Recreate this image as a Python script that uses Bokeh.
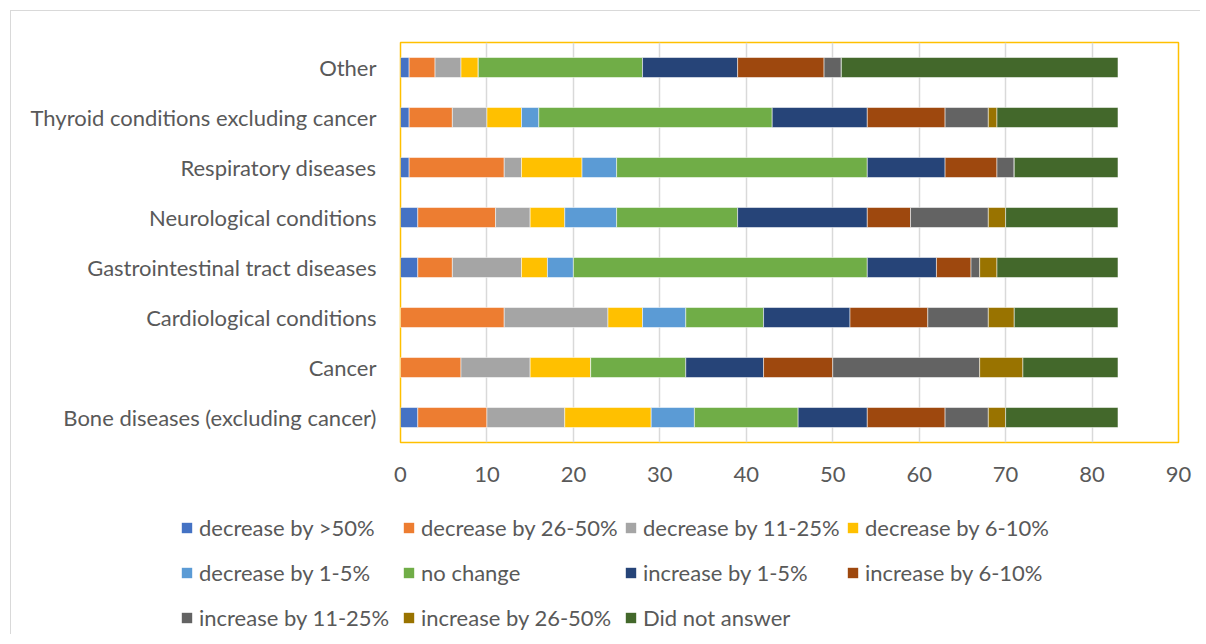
from bokeh.plotting import figure
from bokeh.layouts import column
from bokeh.models import ColumnDataSource, FactorRange, Range1d, Legend, LegendItem, FixedTicker
from bokeh.embed import file_html
from bokeh.resources import INLINE

categories = ["Bone diseases (excluding cancer)", "Cancer", "Cardiological conditions",
              "Gastrointestinal tract diseases", "Neurological conditions",
              "Respiratory diseases", "Thyroid conditions excluding cancer", "Other"]

series_labels = ["decrease by >50%", "decrease by 26-50%", "decrease by 11-25%",
                 "decrease by 6-10%", "decrease by 1-5%", "no change",
                 "increase by 1-5%", "increase by 6-10%", "increase by 11-25%",
                 "increase by 26-50%", "Did not answer"]

dec_gt50 = [2, 0, 0, 2, 2, 1, 1, 1]
dec_26_50 = [8, 7, 12, 4, 9, 11, 5, 3]
dec_11_25 = [9, 8, 12, 8, 4, 2, 4, 3]
dec_6_10 = [10, 7, 4, 3, 4, 7, 4, 2]
dec_1_5 = [5, 0, 5, 3, 6, 4, 2, 0]
no_change = [12, 11, 9, 34, 14, 29, 27, 19]
inc_1_5 = [8, 9, 10, 8, 15, 9, 11, 11]
inc_6_10 = [9, 8, 9, 4, 5, 6, 9, 10]
inc_11_25 = [5, 17, 7, 1, 9, 2, 5, 2]
inc_26_50 = [2, 5, 3, 2, 2, 0, 1, 0]
did_not_answer = [13, 11, 12, 14, 13, 12, 14, 32]

x_ticks = [0, 10, 20, 30, 40, 50, 60, 70, 80, 90]

colors = ["#4472C4", "#ED7D31", "#A5A5A5", "#FFC000", "#5B9BD5", "#70AD47",
          "#264478", "#9E480E", "#636363", "#997300", "#43682B"]

series = [dec_gt50, dec_26_50, dec_11_25, dec_6_10, dec_1_5, no_change,
          inc_1_5, inc_6_10, inc_11_25, inc_26_50, did_not_answer]
keys = ["s%d" % i for i in range(len(series))]
data = {"cat": categories}
for k, s in zip(keys, series):
    data[k] = s
source = ColumnDataSource(data)

FONT = "Lato"
TXT = "#595959"

# ---- main chart ----
p = figure(width=1189, height=483, y_range=FactorRange(factors=categories),
           x_range=Range1d(0, 90), output_backend="svg", toolbar_location=None,
           min_border_left=389, min_border_right=22, min_border_top=31,
           min_border_bottom=52)
p.frame_align = False

p.hbar_stack(keys, y="cat", height=0.4, color=colors, source=source,
             line_color="white", line_alpha=0.5, line_width=1)

p.outline_line_color = "#FFC000"
p.outline_line_width = 1.5
p.ygrid.grid_line_color = None
p.xgrid.grid_line_color = "#D9D9D9"
p.xgrid.grid_line_width = 1.5
p.xaxis.ticker = FixedTicker(ticks=x_ticks)

for ax in (p.xaxis[0], p.yaxis[0]):
    ax.axis_line_color = None
    ax.major_tick_line_color = None
    ax.minor_tick_line_color = None
    ax.major_tick_out = 0
    ax.major_tick_in = 0
    ax.minor_tick_out = 0
    ax.major_label_text_font = FONT
    ax.major_label_text_font_size = "22px"
    ax.major_label_text_color = TXT
p.yaxis.major_label_standoff = 24
p.xaxis.major_label_standoff = 24

# ---- legend panel (same data, drawn outside its visible range) ----
lf = figure(width=1189, height=140, y_range=FactorRange(factors=categories),
            x_range=Range1d(-1000, -910), output_backend="svg", toolbar_location=None,
            x_axis_location=None, y_axis_location=None,
            min_border_left=0, min_border_right=0, min_border_top=0, min_border_bottom=0)
lf.frame_align = False
lf.outline_line_color = None
lf.grid.grid_line_color = None
leg_renderers = lf.hbar_stack(keys, y="cat", height=0.4, color=colors, source=source,
                              line_color=None)

rows = [[0, 1, 2, 3], [4, 5, 6, 7], [8, 9, 10]]
row_y = [92, 47, 2]
for idx, ry in zip(rows, row_y):
    items = [LegendItem(label=series_labels[i], renderers=[leg_renderers[i]]) for i in idx]
    leg = Legend(items=items, orientation="horizontal", location=(169, ry),
                 padding=0, margin=0, spacing=0, glyph_width=13, glyph_height=13,
                 label_standoff=6, label_width=203, label_height=30,
                 label_text_font=FONT, label_text_font_size="22px",
                 label_text_color=TXT, border_line_color=None,
                 background_fill_alpha=0)
    lf.add_layout(leg, "center")

layout = column(p, lf, spacing=0, margin=(10, 0, 0, 10),
                styles={"border-left": "1px solid #D9D9D9",
                        "border-top": "1px solid #D9D9D9"})
open("out.html", "w").write(file_html(layout, INLINE))
